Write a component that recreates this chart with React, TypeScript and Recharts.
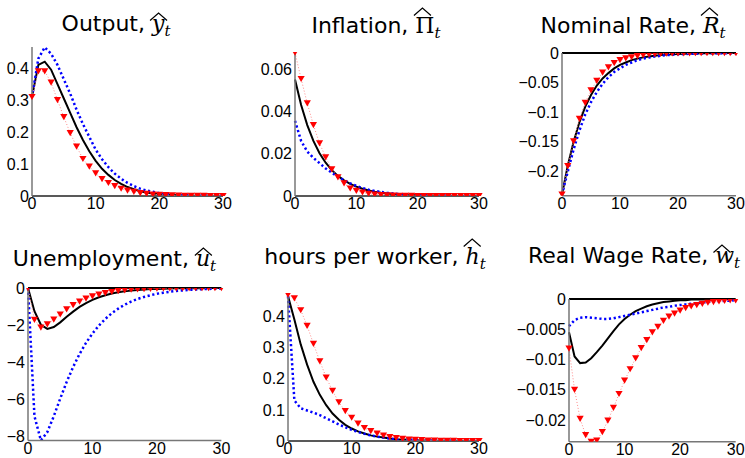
import { LineChart, Line, XAxis, YAxis, ReferenceLine } from 'recharts';

// 期數 0..30
const steps = [0, 1, 2, 3, 4, 5, 6, 7, 8, 9, 10, 11, 12, 13, 14, 15, 16, 17, 18, 19, 20, 21, 22, 23, 24, 25, 26, 27, 28, 29, 30];
const xTicks = [0, 10, 20, 30];

// Output
const outputBlack = [0.31, 0.41, 0.42, 0.395, 0.35, 0.305, 0.26, 0.215, 0.175, 0.14, 0.11, 0.085, 0.066, 0.05, 0.038, 0.028, 0.021, 0.015, 0.011, 0.008, 0.006, 0.004, 0.003, 0.002, 0.0015, 0.001, 0.0008, 0.0006, 0.0004, 0.0003, 0.0002];
const outputBlue = [0.31, 0.43, 0.465, 0.445, 0.41, 0.365, 0.32, 0.27, 0.225, 0.185, 0.145, 0.115, 0.09, 0.07, 0.054, 0.041, 0.031, 0.023, 0.017, 0.013, 0.009, 0.007, 0.005, 0.004, 0.003, 0.002, 0.0015, 0.001, 0.0008, 0.0006, 0.0004];
const outputRed = [0.31, 0.39, 0.39, 0.355, 0.3, 0.247, 0.197, 0.155, 0.116, 0.092, 0.071, 0.053, 0.041, 0.031, 0.023, 0.017, 0.013, 0.009, 0.007, 0.005, 0.004, 0.003, 0.002, 0.0015, 0.001, 0.0008, 0.0006, 0.0004, 0.0003, 0.0002, 0.0001];
const outputTicks = [0, 0.1, 0.2, 0.3, 0.4];

// Inflation
const inflBlack = [0.055, 0.043, 0.0335, 0.026, 0.0202, 0.0157, 0.0122, 0.0095, 0.0074, 0.0057, 0.0044, 0.0034, 0.0026, 0.002, 0.0015, 0.0012, 0.0009, 0.0007, 0.0005, 0.0004, 0.0003, 0.0002, 0.0002, 0.0001, 0.0001, 0.0001, 0, 0, 0, 0, 0];
const inflBlue = [0.0355, 0.026, 0.021, 0.018, 0.0155, 0.013, 0.011, 0.009, 0.0075, 0.006, 0.0048, 0.0038, 0.003, 0.0024, 0.0019, 0.0015, 0.0012, 0.0009, 0.0007, 0.0006, 0.0005, 0.0004, 0.0003, 0.0002, 0.0002, 0.0001, 0.0001, 0.0001, 0, 0, 0];
const inflRed = [0.0677, 0.0553, 0.0438, 0.0335, 0.0249, 0.0183, 0.0126, 0.0088, 0.006, 0.0036, 0.0025, 0.0017, 0.0011, 0.0007, 0.0005, 0.0003, 0.0002, 0.0001, 0.0001, 0.0001, 0, 0, 0, 0, 0, 0, 0, 0, 0, 0, 0];
const inflTicks = [0, 0.02, 0.04, 0.06];

// Nominal rate
const rateBlack = [-0.239, -0.19, -0.15, -0.117, -0.091, -0.071, -0.055, -0.043, -0.034, -0.026, -0.02, -0.016, -0.012, -0.0095, -0.0074, -0.0058, -0.0045, -0.0035, -0.0027, -0.0021, -0.0016, -0.0013, -0.001, -0.0008, -0.0006, -0.0005, -0.0004, -0.0003, -0.0002, -0.0002, -0.0001];
const rateBlue = [-0.239, -0.2, -0.163, -0.131, -0.104, -0.083, -0.066, -0.052, -0.041, -0.032, -0.026, -0.02, -0.016, -0.012, -0.0095, -0.0075, -0.006, -0.0047, -0.0037, -0.0029, -0.0023, -0.0018, -0.0014, -0.0011, -0.0009, -0.0007, -0.0005, -0.0004, -0.0003, -0.0003, -0.0002];
const rateRed = [-0.239, -0.191, -0.149, -0.111, -0.084, -0.063, -0.047, -0.033, -0.024, -0.017, -0.012, -0.009, -0.007, -0.005, -0.0035, -0.0025, -0.0018, -0.0013, -0.001, -0.0007, -0.0005, -0.0004, -0.0003, -0.0002, -0.0002, -0.0001, -0.0001, -0.0001, 0, 0, 0];
const rateTicks = [-0.2, -0.15, -0.1, -0.05, 0];

// Unemployment
const unempBlack = [0, -1.25, -1.98, -2.2, -2.1, -1.85, -1.55, -1.27, -1.02, -0.81, -0.64, -0.5, -0.39, -0.3, -0.23, -0.18, -0.14, -0.11, -0.08, -0.06, -0.05, -0.04, -0.03, -0.02, -0.015, -0.012, -0.009, -0.007, -0.005, -0.004, -0.003];
const unempBlue = [0, -6.9, -8.2, -7.75, -6.9, -5.95, -5.05, -4.25, -3.55, -2.95, -2.45, -2.02, -1.66, -1.36, -1.11, -0.9, -0.73, -0.59, -0.48, -0.39, -0.31, -0.25, -0.2, -0.16, -0.13, -0.1, -0.08, -0.065, -0.05, -0.04, -0.03];
const unempRed = [0, -1.71, -2.13, -1.95, -1.7, -1.42, -1.15, -0.92, -0.73, -0.57, -0.45, -0.35, -0.27, -0.21, -0.16, -0.12, -0.09, -0.07, -0.05, -0.04, -0.03, -0.02, -0.015, -0.012, -0.009, -0.007, -0.005, -0.004, -0.003, -0.002, -0.002];
const unempTicks = [-8, -6, -4, -2, 0];

// Hours per worker
const hoursBlack = [0.465, 0.39, 0.31, 0.245, 0.19, 0.148, 0.115, 0.088, 0.068, 0.052, 0.04, 0.031, 0.024, 0.018, 0.014, 0.011, 0.008, 0.006, 0.005, 0.004, 0.003, 0.002, 0.0015, 0.001, 0.0008, 0.0006, 0.0005, 0.0004, 0.0003, 0.0002, 0.0002];
const hoursBlue = [0.465, 0.13, 0.105, 0.098, 0.091, 0.083, 0.073, 0.063, 0.053, 0.044, 0.036, 0.029, 0.023, 0.018, 0.014, 0.011, 0.008, 0.006, 0.005, 0.004, 0.003, 0.002, 0.0015, 0.001, 0.0008, 0.0006, 0.0005, 0.0004, 0.0003, 0.0002, 0.0002];
const hoursRed = [0.47, 0.458, 0.42, 0.37, 0.312, 0.256, 0.204, 0.161, 0.124, 0.096, 0.075, 0.056, 0.042, 0.032, 0.024, 0.018, 0.013, 0.01, 0.007, 0.005, 0.004, 0.003, 0.002, 0.0015, 0.001, 0.0008, 0.0006, 0.0004, 0.0003, 0.0002, 0.0001];
const hoursTicks = [0, 0.1, 0.2, 0.3, 0.4];

// Real wage rate
const wageBlack = [-0.0055, -0.0095, -0.0106, -0.0105, -0.0098, -0.0088, -0.0077, -0.0065, -0.0053, -0.0042, -0.0033, -0.0026, -0.002, -0.0016, -0.0012, -0.0009, -0.0007, -0.0005, -0.0004, -0.0003, -0.0002, -0.0002, -0.0001, -0.0001, -0.0001, -0.0001, 0, 0, 0, 0, 0];
const wageBlue = [-0.0045, -0.0035, -0.0031, -0.003, -0.0031, -0.0032, -0.0033, -0.0033, -0.0032, -0.003, -0.0028, -0.0026, -0.0024, -0.0022, -0.002, -0.0018, -0.0016, -0.0014, -0.0013, -0.0011, -0.001, -0.0009, -0.0008, -0.0007, -0.0006, -0.0005, -0.0004, -0.0004, -0.0003, -0.0003, -0.0002];
const wageRed = [-0.0082, -0.015, -0.0198, -0.0225, -0.0236, -0.0234, -0.022, -0.0201, -0.018, -0.0157, -0.0135, -0.0116, -0.0098, -0.0081, -0.0068, -0.0055, -0.0046, -0.0036, -0.0029, -0.0024, -0.0019, -0.0015, -0.0012, -0.001, -0.0008, -0.0006, -0.0005, -0.0004, -0.0003, -0.0002, -0.0002];
const wageTicks = [-0.02, -0.015, -0.01, -0.005, 0];

const panels = [
    { label: 'Output, ', sym: 'y', upright: false, tall: false, black: outputBlack, blue: outputBlue, red: outputRed, ticks: outputTicks, domain: [0, 0.466], box: { x: 32, y: 47, w: 191, h: 149 }, title: { cx: 116, top: 13 } },
    { label: 'Inflation, ', sym: 'Π', upright: true, tall: true, black: inflBlack, blue: inflBlue, red: inflRed, ticks: inflTicks, domain: [0, 0.068], box: { x: 295, y: 52, w: 184, h: 144 }, title: { cx: 376, top: 14.5 } },
    { label: 'Nominal Rate, ', sym: 'R', upright: false, tall: true, black: rateBlack, blue: rateBlue, red: rateRed, ticks: rateTicks, domain: [-0.241, 0], box: { x: 561.7, y: 53.3, w: 174, h: 142.7 }, title: { cx: 633, top: 14.5 } },
    { label: 'Unemployment, ', sym: 'u', upright: false, tall: false, black: unempBlack, blue: unempBlue, red: unempRed, ticks: unempTicks, domain: [-8.2, 0], box: { x: 28.3, y: 288.3, w: 193.4, h: 152.4 }, title: { cx: 114.5, top: 248 } },
    { label: 'hours per worker, ', sym: 'h', upright: false, tall: true, black: hoursBlack, blue: hoursBlue, red: hoursRed, ticks: hoursTicks, domain: [0, 0.475], box: { x: 288.3, y: 292.7, w: 191, h: 148 }, title: { cx: 375, top: 246 } },
    { label: 'Real Wage Rate, ', sym: 'w', upright: false, tall: false, black: wageBlack, blue: wageBlue, red: wageRed, ticks: wageTicks, domain: [-0.0236, 0], box: { x: 569, y: 299, w: 166.7, h: 142.7 }, title: { cx: 634, top: 244.5 } },
];

const fmt = (v: number) => String(v).replace('-', '\u2212');

const tri = (p: any) => {
    const { cx, cy, index } = p;
    if (cx == null || cy == null) return <g key={index} />;
    return <path key={index} d={`M${cx - 3.6},${cy - 3} L${cx + 3.6},${cy - 3} L${cx},${cy + 3.2} Z`} fill="#ff0000" />;
};

function Title({ p }: { p: any }) {
    const hatTop = p.tall ? -8 : -1;
    return (
        <div
            style={{
                position: 'absolute',
                left: p.title.cx,
                top: p.title.top,
                transform: 'translateX(-50%)',
                whiteSpace: 'nowrap',
                fontFamily: '"DejaVu Sans", sans-serif',
                fontSize: 22,
                lineHeight: '22px',
                color: '#000',
            }}
        >
            {p.label}
            <span
                style={{
                    position: 'relative',
                    display: 'inline-block',
                    fontFamily: '"DejaVu Serif", serif',
                    fontStyle: p.upright ? 'normal' : 'italic',
                }}
            >
                {p.sym}
                <svg width={18} height={9} viewBox="0 0 18 9" style={{ position: 'absolute', left: -2, top: hatTop, overflow: 'visible' }}>
                    <path d="M0.5,8.5 L9,1 L17.5,8.5" fill="none" stroke="#000" strokeWidth={1.2} />
                </svg>
            </span>
            <span style={{ fontFamily: '"DejaVu Serif", serif', fontStyle: 'italic', fontSize: 15, position: 'relative', top: 5 }}>t</span>
        </div>
    );
}

function Panel({ p }: { p: any }) {
    const data = steps.map((t, i) => ({ t, black: p.black[i], blue: p.blue[i], red: p.red[i] }));
    const m = { top: 10, right: 15, left: 10, bottom: 5 };
    const yw = 60;
    const xh = 25;
    const width = p.box.w + m.left + m.right + yw;
    const height = p.box.h + m.top + m.bottom + xh;
    const tickStyle = { fontSize: 16, fill: '#000', fontFamily: '"Liberation Sans", Arial, sans-serif' };
    return (
        <div style={{ position: 'absolute', left: p.box.x - m.left - yw, top: p.box.y - m.top }}>
            <LineChart width={width} height={height} data={data} margin={m}>
                <XAxis
                    dataKey="t"
                    type="number"
                    domain={[0, 30]}
                    ticks={xTicks}
                    height={xh}
                    tickLine={false}
                    tickSize={0}
                    tickMargin={2}
                    axisLine={{ stroke: '#777', strokeWidth: 1.5 }}
                    tick={tickStyle}
                    interval={0}
                />
                <YAxis
                    type="number"
                    domain={p.domain}
                    allowDataOverflow
                    ticks={p.ticks}
                    width={yw}
                    tickLine={false}
                    tickSize={0}
                    tickMargin={3}
                    axisLine={{ stroke: '#777', strokeWidth: 1.5 }}
                    tick={tickStyle}
                    tickFormatter={fmt}
                    interval={0}
                />
                <ReferenceLine y={0} stroke="#000" strokeWidth={2} />
                <Line type="linear" dataKey="black" stroke="#000" strokeWidth={2} dot={false} isAnimationActive={false} />
                <Line type="linear" dataKey="blue" stroke="#0000ff" strokeWidth={2.5} strokeDasharray="2.2 2.6" dot={false} isAnimationActive={false} />
                <Line type="linear" dataKey="red" stroke="#ff8a8a" strokeWidth={1} strokeDasharray="1 2" dot={tri} isAnimationActive={false} />
            </LineChart>
        </div>
    );
}

export default function App() {
    return (
        <div style={{ position: 'absolute', left: 0, top: 0, width: 745, height: 458, overflow: 'hidden', background: '#fff' }}>
            {panels.map((p, i) => (
                <Panel key={i} p={p} />
            ))}
            {panels.map((p, i) => (
                <Title key={'t' + i} p={p} />
            ))}
        </div>
    );
}
